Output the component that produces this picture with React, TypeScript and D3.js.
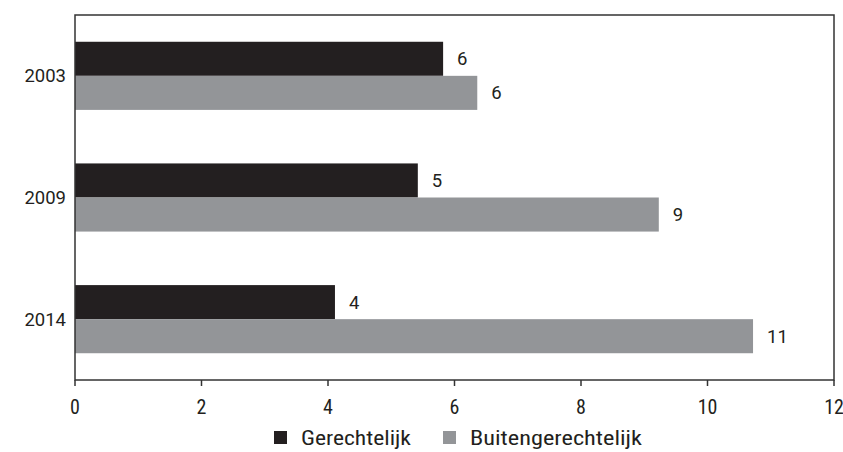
import React from "react";
import * as d3 from "d3";

const years = ["2003", "2009", "2014"];
const seriesNames = ["Gerechtelijk", "Buitengerechtelijk"];
const gerechtelijk = [5.82, 5.42, 4.11];
const buitengerechtelijk = [6.36, 9.23, 10.72];
const valueLabels = [["6", "6"], ["5", "9"], ["4", "11"]];
const xTicks = [0, 2, 4, 6, 8, 10, 12];
const colors = ["#231f20", "#939598"];

const W = 843;
const H = 452;
const left = 75;
const right = 834;
const top = 15;
const bottom = 380;

export default function App() {
  const x = d3.scaleLinear().domain([0, 12]).range([left, right]);
  const y = d3.scaleBand<string>().domain(years).range([top, bottom]).paddingInner(0.44).paddingOuter(0.22);
  const sub = d3.scaleBand<string>().domain(seriesNames).range([0, y.bandwidth()]);
  const data = [gerechtelijk, buitengerechtelijk];
  const font = "'Roboto Condensed', 'Liberation Sans Narrow', Roboto, sans-serif";
  const legendWidths = [110, 172];
  const legendX = [274, 443];
  return (
    <svg width={W} height={H} style={{ position: "absolute", left: 0, top: 0, background: "#fff" }}>
      {years.map((yr, i) => (
        <g key={yr}>
          {seriesNames.map((s, j) => {
            const v = data[j][i];
            const yy = (y(yr) as number) + (sub(s) as number);
            return (
              <g key={s}>
                <rect x={x(0)} y={yy} width={x(v) - x(0)} height={sub.bandwidth()} fill={colors[j]} />
                <text x={x(v) + 14} y={yy + sub.bandwidth() / 2} dy="0.35em" fontFamily="Roboto, sans-serif" fontSize={18.5} fill="#231f20">
                  {valueLabels[i][j]}
                </text>
              </g>
            );
          })}
          <text x={66} y={(y(yr) as number) + y.bandwidth() / 2} dy="0.35em" textAnchor="end" fontFamily="Roboto, sans-serif" fontSize={18.5} fill="#231f20">
            {yr}
          </text>
        </g>
      ))}
      <rect x={left} y={top} width={right - left} height={bottom - top} fill="none" stroke="#333" strokeWidth={1.5} />
      {xTicks.map((t) => (
        <g key={t}>
          <line x1={x(t)} x2={x(t)} y1={bottom} y2={bottom + 6} stroke="#333" strokeWidth={1.5} />
          <text x={x(t)} y={bottom + 27} dy="0.35em" textAnchor="middle" fontFamily={font} fontSize={20} fill="#231f20">
            {t}
          </text>
        </g>
      ))}
      <g>
        {seriesNames.map((s, j) => (
          <g key={s}>
            <rect x={legendX[j]} y={431} width={13} height={13} fill={colors[j]} />
            <text x={legendX[j] + 27} y={438} dy="0.35em" fontFamily={font} fontSize={20} textLength={legendWidths[j]} lengthAdjust="spacingAndGlyphs" fill="#231f20">{s}</text>
          </g>
        ))}
      </g>
    </svg>
  );
}
